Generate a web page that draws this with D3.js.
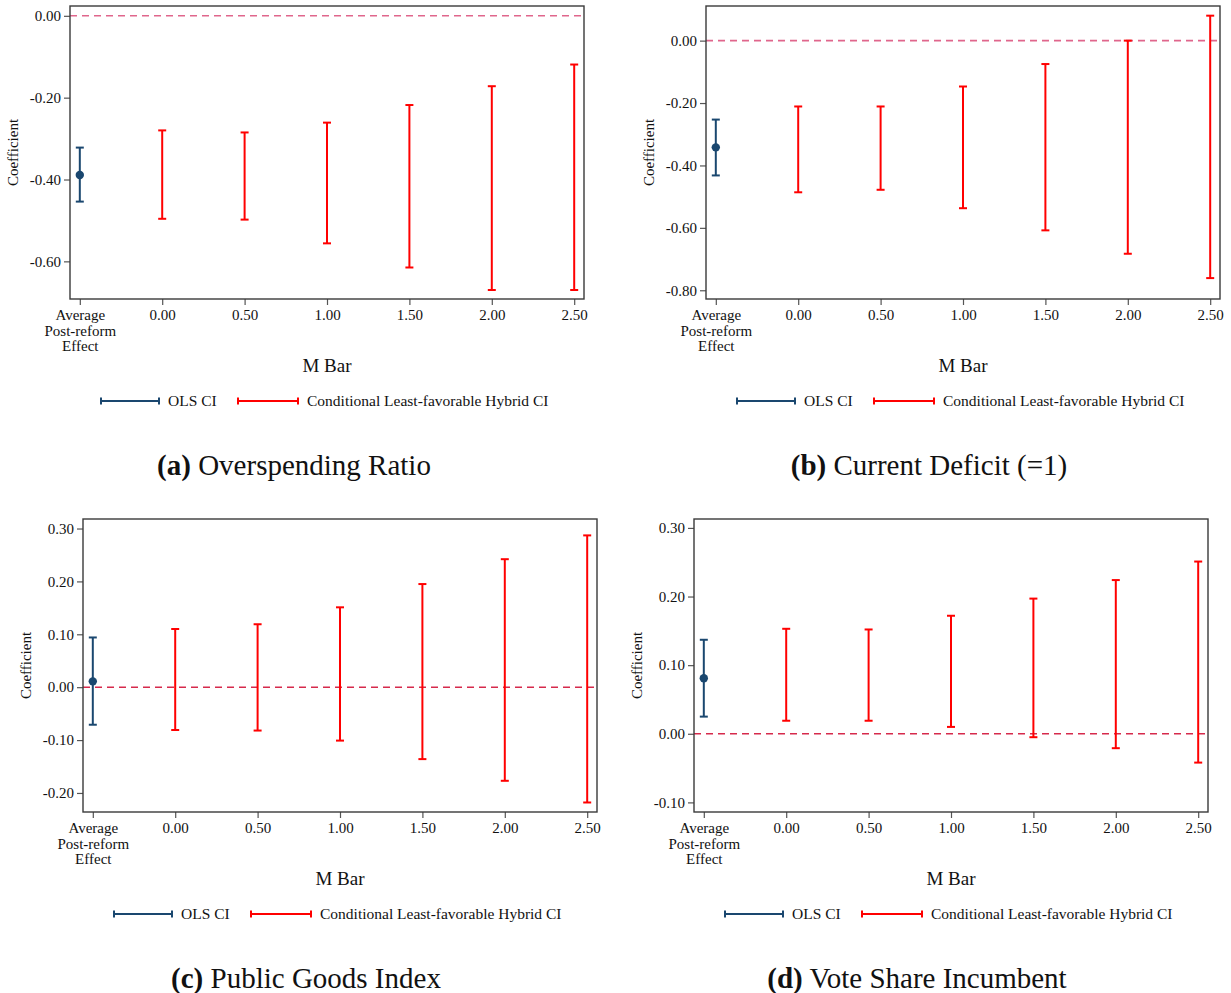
<!DOCTYPE html>
<html>
<head>
<meta charset="utf-8">
<script src="https://cdn.jsdelivr.net/npm/d3@7"></script>
<style>
  body { margin: 0; background: #fff; }
  svg { display: block; }
  text { font-family: "Liberation Serif", "Times New Roman", serif; fill: #111; }
</style>
</head>
<body>
<svg id="chart" width="1231" height="993"></svg>
<script>
// ---------- data ----------
const categories = ["Average|Post-reform|Effect", "0.00", "0.50", "1.00", "1.50", "2.00", "2.50"];
const mbarLabels = ["0.00", "0.50", "1.00", "1.50", "2.00", "2.50"];

// Panel (a) Overspending Ratio
const olsA = { est: -0.389, lo: -0.454, hi: -0.322 };
const hybridLoA = [-0.496, -0.498, -0.556, -0.615, -0.670, -0.670];
const hybridHiA = [-0.280, -0.285, -0.261, -0.218, -0.172, -0.119];
const ticksA = [0.00, -0.20, -0.40, -0.60];

// Panel (b) Current Deficit (=1)
const olsB = { est: -0.342, lo: -0.432, hi: -0.253 };
const hybridLoB = [-0.486, -0.478, -0.537, -0.608, -0.683, -0.761];
const hybridHiB = [-0.211, -0.211, -0.147, -0.075, 0.000, 0.080];
const ticksB = [0.00, -0.20, -0.40, -0.60, -0.80];

// Panel (c) Public Goods Index
const olsC = { est: 0.011, lo: -0.071, hi: 0.094 };
const hybridLoC = [-0.081, -0.082, -0.101, -0.136, -0.177, -0.218];
const hybridHiC = [0.110, 0.119, 0.151, 0.195, 0.242, 0.287];
const ticksC = [0.30, 0.20, 0.10, 0.00, -0.10, -0.20];

// Panel (d) Vote Share Incumbent
const olsD = { est: 0.081, lo: 0.025, hi: 0.137 };
const hybridLoD = [0.019, 0.019, 0.010, -0.005, -0.021, -0.042];
const hybridHiD = [0.153, 0.152, 0.172, 0.197, 0.224, 0.251];
const ticksD = [0.30, 0.20, 0.10, 0.00, -0.10];

const legendLabels = ["OLS CI", "Conditional Least-favorable Hybrid CI"];
const xTitle = "M Bar";
const yTitle = "Coefficient";

// ---------- layout (styles / positions) ----------
const panels = [
  { L: 70,  T: 6,   domain: [0.024, -0.692], ols: olsA, lo: hybridLoA, hi: hybridHiA, ticks: ticksA,
    tag: "(a)", title: " Overspending Ratio", capX: 294, refColor: "#e0668c" },
  { L: 706, T: 6,   domain: [0.111, -0.828], ols: olsB, lo: hybridLoB, hi: hybridHiB, ticks: ticksB,
    tag: "(b)", title: " Current Deficit (=1)", capX: 929, refColor: "#e0668c" },
  { L: 83,  T: 519, domain: [0.318, -0.236], ols: olsC, lo: hybridLoC, hi: hybridHiC, ticks: ticksC,
    tag: "(c)", title: " Public Goods Index", capX: 306, refColor: "#d62a4c" },
  { L: 694, T: 519, domain: [0.313, -0.114], ols: olsD, lo: hybridLoD, hi: hybridHiD, ticks: ticksD,
    tag: "(d)", title: " Vote Share Incumbent", capX: 917, refColor: "#d62a4c" }
];
const W = 514, H = 293;
const navy = "#1a476f", red = "#ff0000", frameColor = "#3a3a3a";
const capW = 8;
const fmt = v => d3.format(".2f")(v).replace("\u2212", "-");

const svg = d3.select("#chart");

panels.forEach(p => {
  const g = svg.append("g").attr("transform", `translate(${p.L},${p.T})`);
  const x = d3.scalePoint().domain(categories).range([0, W]).padding(0.119);
  const y = d3.scaleLinear().domain(p.domain).range([0, H]);

  // y axis
  const yAxis = d3.axisLeft(y).tickValues(p.ticks).tickFormat(fmt).tickSize(6).tickPadding(3);
  const ya = g.append("g").call(yAxis);
  ya.select(".domain").remove();
  ya.selectAll(".tick line").attr("stroke", "#555").attr("stroke-width", 1.2);
  ya.selectAll(".tick text").style("font-size", "15px").style("font-family", "Liberation Serif").attr("fill", "#111");

  // x axis
  const xAxis = d3.axisBottom(x).tickSize(6).tickPadding(3).tickFormat(() => "");
  const xa = g.append("g").attr("transform", `translate(0,${H})`).call(xAxis);
  xa.select(".domain").remove();
  xa.selectAll(".tick line").attr("stroke", "#555").attr("stroke-width", 1.2);
  xa.selectAll(".tick").each(function(d) {
    const lines = d.split("|");
    const t = d3.select(this).append("text")
      .attr("text-anchor", "middle")
      .attr("y", 21)
      .style("font-size", "15px")
      .style("font-family", "Liberation Serif")
      .attr("fill", "#111");
    lines.forEach((ln, i) => {
      t.append("tspan").attr("x", 0).attr("dy", i === 0 ? 0 : 15.5).text(ln);
    });
  });

  // reference dashed line at 0
  g.append("line")
    .attr("x1", 0).attr("x2", W)
    .attr("y1", y(0)).attr("y2", y(0))
    .attr("stroke", p.refColor).attr("stroke-width", 1.6)
    .attr("stroke-dasharray", "7,5");

  // hybrid CIs
  const hyb = mbarLabels.map((m, i) => ({ m, lo: p.lo[i], hi: p.hi[i] }));
  const hg = g.append("g").selectAll("g").data(hyb).join("g");
  hg.append("line")
    .attr("x1", d => x(d.m)).attr("x2", d => x(d.m))
    .attr("y1", d => y(d.hi)).attr("y2", d => y(d.lo))
    .attr("stroke", red).attr("stroke-width", 2);
  ["hi", "lo"].forEach(k => {
    hg.append("line")
      .attr("x1", d => x(d.m) - capW / 2).attr("x2", d => x(d.m) + capW / 2)
      .attr("y1", d => y(d[k])).attr("y2", d => y(d[k]))
      .attr("stroke", red).attr("stroke-width", 2);
  });

  // OLS CI
  const c0 = categories[0];
  g.append("line")
    .attr("x1", x(c0)).attr("x2", x(c0))
    .attr("y1", y(p.ols.hi)).attr("y2", y(p.ols.lo))
    .attr("stroke", navy).attr("stroke-width", 2);
  [p.ols.hi, p.ols.lo].forEach(v => {
    g.append("line")
      .attr("x1", x(c0) - capW / 2).attr("x2", x(c0) + capW / 2)
      .attr("y1", y(v)).attr("y2", y(v))
      .attr("stroke", navy).attr("stroke-width", 2);
  });
  g.append("circle").attr("cx", x(c0)).attr("cy", y(p.ols.est)).attr("r", 4.2).attr("fill", navy);

  // frame
  g.append("rect").attr("x", 0).attr("y", 0).attr("width", W).attr("height", H)
    .attr("fill", "none").attr("stroke", frameColor).attr("stroke-width", 1.4);

  // axis titles
  g.append("text").attr("x", W / 2).attr("y", H + 73)
    .attr("text-anchor", "middle").style("font-size", "19px").text(xTitle);
  g.append("text")
    .attr("transform", `translate(${-52},${H / 2}) rotate(-90)`)
    .attr("text-anchor", "middle").style("font-size", "15px").text(yTitle);

  // legend
  const ly = H + 102;
  const items = [
    { x0: 31, x1: 89, tx: 98, color: navy, label: legendLabels[0] },
    { x0: 168, x1: 228, tx: 237, color: red, label: legendLabels[1] }
  ];
  items.forEach(it => {
    g.append("line").attr("x1", it.x0).attr("x2", it.x1).attr("y1", ly).attr("y2", ly)
      .attr("stroke", it.color).attr("stroke-width", 2);
    [it.x0, it.x1].forEach(xx => {
      g.append("line").attr("x1", xx).attr("x2", xx).attr("y1", ly - 3.5).attr("y2", ly + 3.5)
        .attr("stroke", it.color).attr("stroke-width", 2);
    });
    g.append("text").attr("x", it.tx).attr("y", ly + 5).style("font-size", "15.5px").text(it.label);
  });

  // caption
  const cap = svg.append("text")
    .attr("x", p.capX).attr("y", p.T + H + 175.5)
    .attr("text-anchor", "middle").style("font-size", "29px");
  cap.append("tspan").style("font-weight", "bold").text(p.tag);
  cap.append("tspan").text(p.title);
});
</script>
</body>
</html>
